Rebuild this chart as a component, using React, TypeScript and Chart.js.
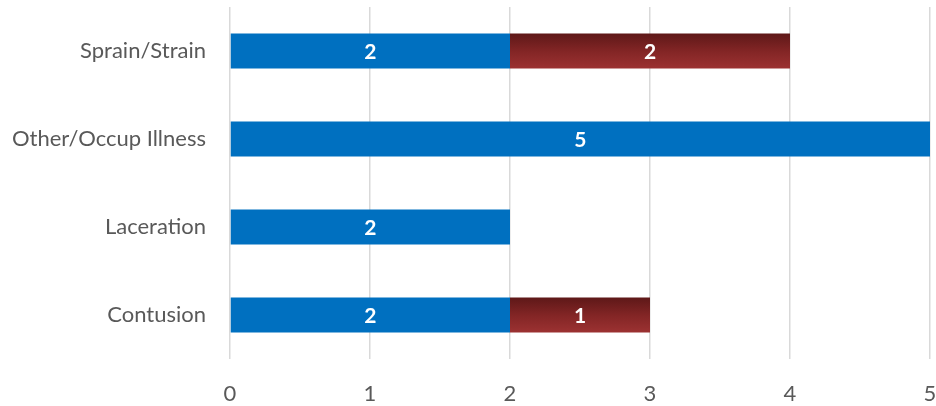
import React, { useEffect, useRef } from "react";
import { Chart, registerables } from "chart.js";

Chart.register(...registerables);

const categories = ["Sprain/Strain", "Other/Occup Illness", "Laceration", "Contusion"];
const seriesBlue = [2, 5, 2, 2];
const seriesRed = [2, 0, 0, 1];
const xTicks = [0, 1, 2, 3, 4, 5];

const FONT = "Lato, 'Open Sans', sans-serif";

const labelPlugin = {
  id: "barLabels",
  afterDatasetsDraw(chart: any) {
    const ctx = chart.ctx;
    ctx.save();
    ctx.fillStyle = "#ffffff";
    ctx.font = `bold 21px ${FONT}`;
    ctx.textAlign = "center";
    ctx.textBaseline = "middle";
    chart.data.datasets.forEach((ds: any, di: number) => {
      const meta = chart.getDatasetMeta(di);
      meta.data.forEach((bar: any, i: number) => {
        const v = ds.data[i];
        if (!v) return;
        const { x, y, base } = bar.getProps(["x", "y", "base"], true);
        ctx.fillText(String(v), (x + base) / 2, y + 1);
      });
    });
    ctx.restore();
  },
};

const zeroPad = (axis: any) => {
  axis.paddingTop = 0;
  axis.paddingBottom = 0;
  axis.paddingLeft = 0;
  axis.paddingRight = 0;
};

export default function App() {
  const ref = useRef<HTMLCanvasElement>(null);
  useEffect(() => {
    document.body.style.margin = "0";
    const canvas = ref.current!;
    const redFill = (c: any) => {
      const chart = c.chart;
      const ys = chart.scales?.y;
      if (!ys || !chart.chartArea) return "#8a2828";
      const cy = ys.getPixelForValue(c.dataIndex);
      const half = 17.5;
      const g = chart.ctx.createLinearGradient(0, cy - half, 0, cy + half);
      g.addColorStop(0, "#5e1818");
      g.addColorStop(0.5, "#822525");
      g.addColorStop(1, "#9c3232");
      return g;
    };
    const chart = new Chart(canvas, {
      type: "bar",
      data: {
        labels: categories,
        datasets: [
          {
            data: seriesBlue,
            backgroundColor: "#0070C0",
            barPercentage: 0.8,
            categoryPercentage: 0.5,
          },
          {
            data: seriesRed,
            backgroundColor: redFill,
            barPercentage: 0.8,
            categoryPercentage: 0.5,
          },
        ],
      },
      options: {
        indexAxis: "y",
        animation: false,
        responsive: false,
        maintainAspectRatio: false,
        layout: { padding: { top: 7, right: 6, left: 0, bottom: 0 } },
        plugins: { legend: { display: false }, tooltip: { enabled: false } },
        scales: {
          x: {
            stacked: true,
            min: 0,
            max: 5,
            afterBuildTicks: (axis: any) => {
              axis.ticks = xTicks.map((v) => ({ value: v }));
            },
            afterFit: (axis: any) => {
              axis.height = 47;
              zeroPad(axis);
            },
            grid: { color: "#d9d9d9", lineWidth: 1.5, drawTicks: false },
            border: { display: false },
            ticks: {
              padding: 22,
              color: "#595959",
              font: { family: FONT, size: 22 },
            },
          },
          y: {
            stacked: true,
            afterFit: (axis: any) => {
              axis.width = 230;
              zeroPad(axis);
            },
            grid: { display: false, drawTicks: false },
            border: { display: false },
            ticks: {
              padding: 24,
              color: "#595959",
              font: { family: FONT, size: 22 },
            },
          },
        },
      },
      plugins: [labelPlugin],
    } as any);
    return () => chart.destroy();
  }, []);
  return (
    <div style={{ width: 936, height: 406 }}>
      <canvas ref={ref} width={936} height={406} style={{ display: "block" }} />
    </div>
  );
}
